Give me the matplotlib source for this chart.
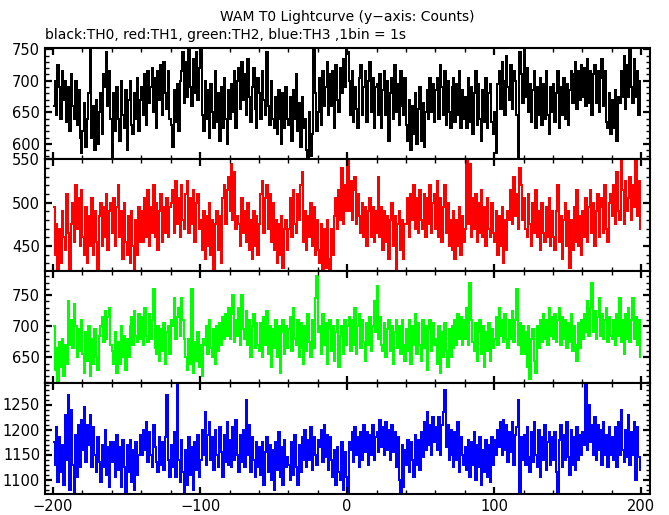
import numpy as np
import matplotlib
matplotlib.use("Agg")
import matplotlib.pyplot as plt
from matplotlib.ticker import MultipleLocator

# bins de 1 s, de -200 a 200
bin_edges = np.arange(-200, 201, 1)

th0 = [
    660, 700, 645, 725, 690, 640, 715, 670, 700, 635, 690, 620, 710, 660, 640, 700, 630, 685, 610, 585,
    620, 665, 595, 640, 680, 750, 610, 660, 590, 670, 600, 650, 680, 615, 710, 690, 745, 660, 715, 640,
    555, 680, 620, 690, 640, 605, 700, 645, 625, 685, 590, 670, 700, 630, 615, 680, 640, 705, 620, 670,
    690, 645, 710, 630, 715, 665, 690, 720, 650, 705, 625, 715, 670, 725, 645, 730, 680, 655, 715, 640,
    630, 595, 685, 635, 695, 620, 700, 715, 745, 665, 730, 675, 750, 690, 660, 735, 680, 745, 670, 720,
    750, 645, 620, 700, 640, 685, 610, 695, 650, 625, 715, 635, 680, 605, 690, 625, 705, 640, 600, 685,
    640, 695, 650, 715, 625, 700, 720, 655, 730, 670, 710, 645, 735, 675, 635, 690, 720, 655, 625, 705,
    680, 640, 715, 670, 645, 745, 660, 630, 700, 640, 625, 675, 615, 685, 640, 600, 680, 625, 690, 640,
    630, 675, 605, 685, 640, 710, 620, 665, 595, 675, 625, 640, 590, 560, 650, 580, 615, 750, 680, 620,
    650, 705, 630, 715, 660, 690, 730, 645, 710, 660, 715, 625, 725, 670, 650, 720, 680, 735, 690, 750,
    745, 700, 645, 715, 635, 690, 655, 625, 705, 725, 645, 690, 715, 635, 700, 730, 650, 705, 625, 690,
    695, 645, 710, 625, 685, 715, 645, 700, 605, 680, 705, 640, 725, 650, 695, 630, 715, 660, 645, 705,
    630, 605, 670, 590, 660, 615, 680, 600, 655, 690, 605, 665, 595, 650, 685, 640, 705, 650, 695, 635,
    685, 705, 640, 725, 690, 645, 715, 630, 700, 650, 625, 690, 705, 635, 695, 645, 715, 625, 685, 640,
    675, 625, 705, 635, 690, 615, 680, 715, 630, 695, 640, 605, 685, 635, 705, 625, 680, 695, 635, 615,
    650, 585, 695, 715, 655, 730, 700, 645, 740, 690, 670, 725, 655, 715, 700, 645, 570, 745, 710, 665,
    750, 675, 720, 650, 695, 635, 685, 715, 625, 690, 645, 705, 630, 695, 640, 715, 645, 615, 690, 650,
    695, 635, 680, 715, 625, 690, 645, 705, 640, 695, 630, 685, 715, 665, 710, 730, 655, 715, 670, 725,
    675, 720, 660, 735, 665, 715, 645, 710, 725, 665, 715, 650, 705, 735, 660, 715, 635, 625, 680, 615,
    670, 625, 685, 605, 675, 665, 715, 675, 740, 655, 725, 675, 750, 690, 665, 735, 675, 715, 645, 700,
]

th1 = [
    495, 440, 475, 410, 470, 430, 490, 460, 445, 510, 465, 415, 475, 500, 455, 520, 470, 505, 450, 515,
    460, 440, 495, 430, 485, 450, 505, 440, 490, 455, 415, 485, 500, 450, 495, 460, 510, 445, 490, 500,
    465, 505, 450, 495, 520, 460, 490, 435, 500, 455, 440, 485, 430, 490, 450, 410, 480, 440, 495, 455,
    490, 455, 505, 460, 515, 450, 495, 465, 520, 460, 500, 445, 490, 510, 455, 495, 465, 505, 460, 495,
    500, 515, 465, 525, 475, 505, 460, 520, 480, 470, 510, 525, 465, 505, 475, 515, 455, 500, 510, 470,
    480, 445, 490, 435, 485, 450, 500, 440, 480, 420, 475, 490, 445, 485, 430, 505, 520, 475, 515, 530,
    490, 545, 480, 535, 470, 485, 475, 450, 505, 465, 490, 455, 500, 445, 480, 435, 490, 450, 485, 440,
    475, 510, 525, 465, 505, 520, 470, 510, 455, 500, 445, 480, 430, 475, 440, 485, 425, 470, 480, 445,
    470, 505, 460, 515, 475, 465, 510, 480, 520, 535, 455, 490, 445, 485, 460, 500, 450, 495, 440, 480,
    445, 430, 475, 415, 470, 425, 480, 435, 410, 470, 440, 485, 505, 470, 515, 480, 540, 475, 520, 490,
    550, 490, 525, 480, 515, 530, 475, 510, 485, 465, 500, 460, 495, 450, 490, 505, 460, 495, 455, 490,
    465, 530, 460, 495, 445, 490, 455, 485, 435, 480, 500, 450, 485, 415, 475, 490, 445, 480, 435, 475,
    475, 505, 460, 510, 480, 520, 470, 505, 465, 515, 480, 470, 510, 460, 505, 475, 520, 465, 500, 510,
    470, 525, 460, 505, 455, 495, 520, 465, 500, 450, 480, 445, 490, 435, 480, 450, 495, 440, 485, 455,
    470, 550, 475, 545, 460, 505, 470, 510, 455, 500, 465, 515, 460, 495, 450, 505, 470, 460, 500, 465,
    455, 490, 440, 485, 450, 495, 430, 480, 445, 490, 480, 515, 475, 530, 485, 510, 470, 540, 520, 480,
    505, 470, 460, 510, 475, 450, 500, 465, 515, 460, 490, 445, 500, 465, 455, 495, 460, 505, 450, 490,
    460, 445, 490, 520, 455, 485, 435, 480, 500, 450, 490, 425, 480, 445, 495, 455, 515, 450, 485, 440,
    490, 460, 505, 455, 495, 515, 465, 500, 450, 490, 510, 460, 495, 505, 465, 520, 470, 455, 500, 510,
    485, 520, 475, 535, 490, 480, 550, 515, 475, 525, 490, 505, 530, 480, 520, 495, 550, 485, 525, 470,
]

th2 = [
    700, 630, 665, 610, 675, 635, 680, 620, 670, 640, 740, 670, 710, 665, 735, 700, 650, 695, 660, 710,
    655, 625, 690, 645, 700, 620, 680, 640, 695, 650, 630, 685, 700, 715, 675, 725, 680, 715, 730, 670,
    660, 640, 690, 625, 675, 640, 700, 650, 685, 630, 680, 650, 700, 715, 670, 725, 685, 675, 720, 680,
    715, 670, 730, 685, 675, 720, 680, 710, 760, 665, 655, 700, 645, 695, 660, 705, 640, 690, 700, 655,
    710, 700, 745, 680, 715, 730, 685, 745, 710, 680, 650, 630, 680, 640, 760, 625, 675, 645, 690, 635,
    670, 620, 680, 670, 700, 655, 710, 665, 650, 695, 640, 700, 660, 705, 670, 715, 680, 720, 685, 730,
    680, 720, 750, 675, 710, 685, 730, 670, 750, 695, 680, 725, 670, 710, 650, 700, 720, 665, 705, 670,
    660, 705, 650, 715, 670, 725, 655, 700, 635, 695, 665, 710, 650, 700, 625, 690, 710, 655, 700, 665,
    695, 715, 660, 730, 680, 670, 710, 650, 705, 665, 640, 700, 660, 720, 675, 650, 710, 665, 745, 780,
    690, 700, 655, 720, 670, 705, 640, 695, 710, 660, 700, 645, 690, 710, 635, 685, 700, 655, 710, 670,
    700, 715, 660, 710, 670, 730, 655, 700, 720, 665, 710, 675, 645, 705, 670, 715, 660, 700, 740, 690,
    765, 680, 715, 670, 660, 705, 650, 695, 710, 660, 700, 640, 690, 710, 665, 700, 655, 710, 670, 645,
    695, 660, 710, 640, 700, 670, 720, 655, 705, 670, 645, 710, 665, 700, 630, 695, 710, 660, 705, 670,
    680, 640, 700, 625, 690, 650, 705, 660, 635, 695, 650, 700, 665, 710, 670, 720, 680, 715, 670, 710,
    680, 730, 670, 770, 710, 675, 660, 705, 645, 690, 710, 655, 700, 635, 690, 660, 705, 645, 695, 665,
    680, 715, 670, 730, 685, 710, 675, 720, 680, 665, 710, 680, 725, 675, 710, 760, 670, 705, 655, 700,
    655, 690, 635, 700, 615, 680, 695, 645, 625, 700, 665, 710, 675, 720, 680, 710, 670, 730, 685, 715,
    680, 720, 675, 710, 730, 670, 715, 680, 710, 665, 705, 675, 720, 660, 700, 670, 645, 705, 665, 710,
    680, 720, 690, 740, 685, 730, 770, 690, 725, 680, 715, 745, 685, 720, 680, 710, 730, 675, 715, 685,
    680, 710, 670, 720, 685, 745, 675, 710, 655, 720, 680, 730, 675, 710, 745, 680, 715, 670, 710, 650,
]

th3 = [
    1175, 1130, 1205, 1095, 1185, 1115, 1170, 1090, 1230, 1140, 1270, 1080, 1240, 1130, 1075, 1190, 1105, 1210, 1125, 1220,
    1160, 1245, 1135, 1210, 1170, 1230, 1125, 1205, 1150, 1115, 1185, 1135, 1095, 1170, 1125, 1200, 1110, 1165, 1085, 1175,
    1135, 1175, 1105, 1190, 1120, 1165, 1085, 1180, 1125, 1070, 1170, 1115, 1180, 1095, 1160, 1080, 1175, 1110, 1150, 1190,
    1150, 1200, 1160, 1215, 1135, 1195, 1150, 1125, 1210, 1165, 1135, 1115, 1185, 1130, 1175, 1120, 1185, 1270, 1140, 1105,
    1170, 1125, 1195, 1105, 1290, 1140, 1095, 1180, 1115, 1075, 1160, 1090, 1185, 1110, 1165, 1080, 1175, 1120, 1190, 1105,
    1140, 1200, 1150, 1235, 1130, 1190, 1215, 1140, 1185, 1120, 1200, 1150, 1125, 1205, 1155, 1105, 1190, 1135, 1215, 1130,
    1180, 1125, 1205, 1140, 1220, 1150, 1115, 1190, 1135, 1200, 1125, 1260, 1150, 1210, 1115, 1185, 1140, 1105, 1175, 1125,
    1165, 1110, 1175, 1090, 1155, 1185, 1115, 1170, 1100, 1160, 1080, 1175, 1120, 1195, 1105, 1165, 1090, 1180, 1125, 1145,
    1130, 1100, 1175, 1110, 1190, 1125, 1090, 1170, 1115, 1185, 1140, 1200, 1125, 1180, 1140, 1205, 1120, 1185, 1150, 1130,
    1180, 1165, 1200, 1135, 1210, 1145, 1190, 1120, 1185, 1140, 1105, 1160, 1090, 1165, 1115, 1100, 1175, 1080, 1155, 1105,
    1075, 1175, 1160, 1195, 1135, 1205, 1150, 1185, 1125, 1195, 1140, 1210, 1155, 1195, 1130, 1190, 1150, 1210, 1140, 1185,
    1195, 1155, 1220, 1165, 1205, 1150, 1215, 1160, 1200, 1140, 1210, 1155, 1195, 1125, 1185, 1100, 1075, 1170, 1085, 1160,
    1130, 1180, 1115, 1175, 1140, 1105, 1190, 1130, 1180, 1120, 1195, 1145, 1215, 1160, 1235, 1170, 1210, 1150, 1225, 1175,
    1205, 1160, 1225, 1150, 1210, 1235, 1280, 1165, 1210, 1140, 1200, 1150, 1125, 1195, 1140, 1215, 1115, 1185, 1150, 1130,
    1165, 1120, 1180, 1105, 1175, 1130, 1195, 1100, 1170, 1125, 1185, 1090, 1160, 1115, 1180, 1105, 1170, 1095, 1185, 1130,
    1180, 1150, 1200, 1165, 1215, 1150, 1220, 1160, 1210, 1135, 1195, 1155, 1215, 1130, 1190, 1205, 1260, 1075, 1185, 1140,
    1190, 1130, 1205, 1145, 1115, 1195, 1135, 1215, 1150, 1125, 1200, 1105, 1185, 1140, 1210, 1120, 1175, 1195, 1130, 1185,
    1140, 1195, 1115, 1070, 1180, 1210, 1125, 1190, 1140, 1215, 1145, 1110, 1200, 1130, 1185, 1120, 1205, 1140, 1190, 1150,
    1195, 1170, 1290, 1160, 1250, 1175, 1210, 1150, 1225, 1140, 1210, 1160, 1200, 1130, 1215, 1150, 1190, 1125, 1205, 1150,
    1185, 1140, 1205, 1125, 1215, 1150, 1240, 1160, 1135, 1200, 1145, 1230, 1130, 1195, 1150, 1215, 1100, 1205, 1145, 1120,
]

series = [th0, th1, th2, th3]
colores = ["#000000", "#ff0000", "#00ff00", "#0000ff"]
limites_y = [(576, 752), (421, 550.5), (609, 788.5), (1071, 1293)]
ticks_y = [[600, 650, 700, 750], [450, 500, 550], [650, 700, 750], [1100, 1150, 1200, 1250]]

W, H = 669, 515
fig = plt.figure(figsize=(W / 100, H / 100), dpi=100)

# bordes de los paneles en pixeles
x0, x1 = 45, 650
bordes = [48, 159, 271, 383, 494]

for i in range(4):
    top, bot = bordes[i], bordes[i + 1]
    ax = fig.add_axes([x0 / W, 1 - bot / H, (x1 - x0) / W, (bot - top) / H])
    ax.stairs(series[i], bin_edges, baseline=None, color=colores[i], lw=1.1,
              antialiased=False)
    ax.set_xlim(-205.5, 206)
    ax.set_ylim(*limites_y[i])
    ax.set_yticks(ticks_y[i])
    ax.set_xticks([-200, -100, 0, 100, 200])
    ax.xaxis.set_minor_locator(MultipleLocator(20))
    ax.yaxis.set_minor_locator(MultipleLocator(10))
    ax.tick_params(which="both", direction="in", top=True, right=True)
    ax.tick_params(which="major", length=5, width=1.6, labelsize=10.5)
    ax.tick_params(which="minor", length=3, width=1)
    for s in ax.spines.values():
        s.set_linewidth(1.5)
    if i < 3:
        ax.tick_params(labelbottom=False)

fig.text(347 / W, 1 - 17 / H, "WAM T0 Lightcurve (y\u2212axis: Counts)",
         ha="center", va="center", fontsize=10)
fig.text(45 / W, 1 - 35 / H, "black:TH0, red:TH1, green:TH2, blue:TH3 ,1bin = 1s",
         ha="left", va="center", fontsize=10)

fig.savefig("out.png", dpi=100)
